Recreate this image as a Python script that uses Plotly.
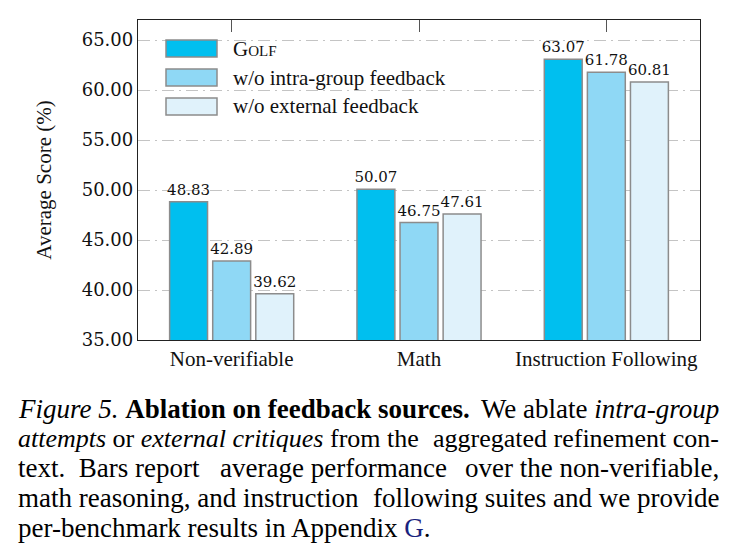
import plotly.graph_objects as go

categories = ["Non-verifiable", "Math", "Instruction Following"]
series_names = ["G<span style='font-size:15px'>OLF</span>", "w/o intra-group feedback", "w/o external feedback"]
golf = [48.83, 50.07, 63.07]
wo_intra = [42.89, 46.75, 61.78]
wo_external = [39.62, 47.61, 60.81]
y_ticks = [35, 40, 45, 50, 55, 60, 65]
y_tick_labels = ["35.00", "40.00", "45.00", "50.00", "55.00", "60.00", "65.00"]

colors = ["#00BFEF", "#8FD8F5", "#E0F2FB"]
NUM_FONT = "DejaVu Serif"
TXT_FONT = "'Liberation Serif', 'Times New Roman', Tinos, serif"

fig = go.Figure()
for vals, col in zip([golf, wo_intra, wo_external], colors):
    fig.add_trace(go.Bar(
        x=categories, y=vals,
        marker=dict(color=col, line=dict(color="#8c8c8c", width=1.5)),
        text=[f"{v:.2f}" for v in vals], textposition="outside",
        textfont=dict(family=NUM_FONT, size=15, color="#111"),
        constraintext="none", cliponaxis=False, showlegend=False,
    ))

L, R, T, B = 138, 700, 20, 340
def px(x):
    return (x - L) / (R - L)
def py(y):
    return (B - y) / (B - T)

legend_rows = [(40, 57), (69, 86), (98, 115)]
for (y0, y1), col, name in zip(legend_rows, colors, series_names):
    fig.add_shape(type="rect", xref="paper", yref="paper",
                  x0=px(166), x1=px(217), y0=py(y1), y1=py(y0),
                  fillcolor=col, line=dict(color="#8c8c8c", width=1.5))
    fig.add_annotation(xref="paper", yref="paper", x=px(231), y=py((y0 + y1) / 2),
                       text=name, showarrow=False, xanchor="left", yanchor="middle",
                       font=dict(family=TXT_FONT, size=21, color="#111"))

# caption lines: (left part, middle part, middle centre x, right part, y centre, font size)
cap_lines = [
    ("<i>Figure 5.</i> <b>Ablation on feedback sources.</b>", None, None, "We ablate <i>intra-group</i>", 409, 27),
    ("<i>attempts</i> or <i>external critiques</i> from the", None, None, "aggregated refinement con-", 438, 26),
    ("text.  Bars report", "average performance", 333, "over the non-verifiable,", 468, 27),
    ("math reasoning, and instruction", None, None, "following suites and we provide", 498, 27),
    ("per-benchmark results in Appendix <span style='color:#1a237e'>G</span>.", None, None, None, 528, 27),
]
for left, mid, midx, right, yc, fs in cap_lines:
    f = dict(family=TXT_FONT, size=fs, color="#000")
    fig.add_annotation(xref="paper", yref="paper", x=px(16), y=py(yc), text=left,
                       showarrow=False, xanchor="left", yanchor="middle", font=f)
    if mid:
        fig.add_annotation(xref="paper", yref="paper", x=px(midx), y=py(yc), text=mid,
                           showarrow=False, xanchor="center", yanchor="middle", font=f)
    if right:
        fig.add_annotation(xref="paper", yref="paper", x=px(721), y=py(yc), text=right,
                           showarrow=False, xanchor="right", yanchor="middle", font=f)

fig.update_layout(
    width=739, height=558,
    margin=dict(l=L, r=739 - R, t=T, b=558 - B),
    paper_bgcolor="white", plot_bgcolor="white",
    barmode="group", bargap=0.31, bargroupgap=0.12,
    font=dict(family=TXT_FONT, color="#111"),
)
fig.update_xaxes(
    range=[-0.5, 2.5], showline=True, linecolor="#222", linewidth=1.3, mirror="allticks",
    ticks="inside", ticklen=12, tickcolor="#555", tickwidth=1,
    tickfont=dict(family=TXT_FONT, size=21, color="#111"),
    showgrid=False, layer="below traces",
)
fig.update_yaxes(
    range=[35, 67], tickvals=y_ticks, ticktext=y_tick_labels,
    showline=True, linecolor="#222", linewidth=1.3, mirror=True,
    ticks="", tickfont=dict(family=NUM_FONT, size=18, color="#111"),
    showgrid=True, gridcolor="#c4c4c4", gridwidth=1, griddash="12px,5px,2px,5px",
    zeroline=False, layer="below traces",
    title=dict(text="Average Score (%)", font=dict(family=TXT_FONT, size=21, color="#111"), standoff=24),
)

fig.write_html("out.html")
